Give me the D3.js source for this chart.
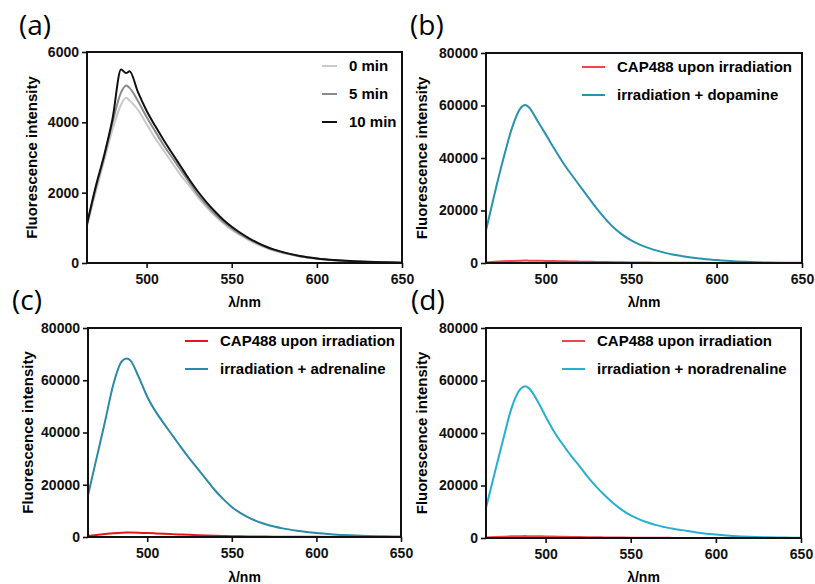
<!DOCTYPE html>
<html lang="en">
  <head>
    <meta charset="utf-8"/>
    <script src="https://d3js.org/d3.v7.min.js"></script>
    <title>Fluorescence spectra</title>
    <style>
      body { margin: 0; background: #fff; }
      text { font-family: "Liberation Sans", Arial, sans-serif; }
      .tick text { font-weight: bold; font-size: 14px; fill: #111; }
      .tick line { stroke: #111; stroke-width: 1.6px; }
    </style>
  </head>
  <body>
    <svg id="svg_main"></svg>

    <script>
      const width = 815;
      const height = 584;

      // wavelength grid (nm) shared by all series
      const wavelengths = [465, 470, 475, 480, 485, 488, 490, 495, 500, 505, 510, 515, 520, 525, 530, 535, 540, 545, 550, 555,
                           560, 565, 570, 575, 580, 590, 600, 610, 620, 630, 640, 650];

      // (a) irradiation time series
      const a_0min  = [1050, 2000, 2900, 3800, 4500, 4700, 4620, 4350, 3950, 3550, 3200, 2850, 2500, 2200, 1880, 1600, 1350, 1130, 940, 790,
                       650, 530, 430, 350, 285, 185, 120, 75, 45, 28, 16, 6];
      const a_5min  = [1100, 2100, 3000, 4000, 4850, 5050, 4980, 4600, 4150, 3750, 3350, 3000, 2650, 2300, 1950, 1660, 1400, 1170, 980, 820,
                       680, 560, 455, 370, 300, 195, 125, 80, 50, 30, 20, 10];
      const a_10min = [1110, 2150, 3050, 4100, 5500, 5400, 5450, 4850, 4330, 3900, 3500, 3120, 2750, 2380, 2040, 1740, 1470, 1230, 1030, 860,
                       710, 580, 470, 380, 310, 200, 130, 85, 55, 35, 20, 10];

      // (b)-(d) CAP488 alone vs with catecholamine
      const b_cap = [200, 450, 650, 800, 900, 920, 900, 850, 780, 720, 650, 580, 520, 460, 400, 350, 300, 260, 220, 190,
                     160, 135, 110, 95, 80, 50, 40, 30, 20, 12, 8, 5];
      const b_dopamine = [12500, 26300, 39300, 51000, 58800, 60200, 59400, 54300, 49000, 43500, 38300, 33700, 29300, 24900, 20600, 16700, 13300, 10700, 8600, 7000,
                          5750, 4700, 3850, 3150, 2600, 1700, 1100, 620, 350, 200, 100, 50];
      const c_cap = [400, 800, 1150, 1450, 1650, 1700, 1680, 1600, 1500, 1380, 1250, 1100, 950, 820, 700, 580, 480, 400, 330, 270,
                     220, 180, 150, 120, 100, 70, 50, 35, 25, 15, 10, 5];
      const c_adrenaline = [16000, 30000, 44000, 58500, 67300, 68300, 67600, 61200, 53700, 48000, 43300, 38800, 34300, 30000, 26000, 22000, 17900, 14500, 11500, 9200,
                            7400, 6000, 4900, 4000, 3300, 2300, 1500, 1000, 650, 400, 250, 150];
      const d_cap = [150, 350, 500, 620, 700, 720, 700, 660, 600, 540, 480, 420, 360, 310, 260, 220, 180, 150, 120, 100,
                     80, 65, 55, 45, 40, 30, 20, 15, 10, 8, 5, 3];
      const d_noradrenaline = [11500, 24500, 37300, 49500, 56600, 57800, 57200, 52500, 46300, 40500, 35700, 31300, 27300, 23100, 19400, 16100, 13100, 10600, 8600, 7100,
                               5900, 4900, 4150, 3500, 3000, 2000, 1300, 800, 450, 250, 150, 80];

      const xTicks = [500, 550, 600, 650];
      const yTicksA = [0, 2000, 4000, 6000];
      const yTicksB = [0, 20000, 40000, 60000, 80000];

      const panels = [
        { label: "(a)", lx: 19, ly: 35, left: 87, top: 52, right: 402, bottom: 263, ymax: 6000, yticks: yTicksA,
          titleX: 32, xTitleY: 307, legX: 322, legLen: 15, legY: 66,
          series: [
            { name: "0 min", values: a_0min, color: "#c9c9c9" },
            { name: "5 min", values: a_5min, color: "#8a8a8a" },
            { name: "10 min", values: a_10min, color: "#111111" }
          ] },
        { label: "(b)", lx: 410, ly: 35, left: 486, top: 53, right: 802, bottom: 263, ymax: 80000, yticks: yTicksB,
          titleX: 422, xTitleY: 307, legX: 582, legLen: 23, legY: 67,
          series: [
            { name: "CAP488 upon irradiation", values: b_cap, color: "#f0454c" },
            { name: "irradiation + dopamine", values: b_dopamine, color: "#2893ad" }
          ] },
        { label: "(c)", lx: 12, ly: 310, left: 88, top: 328, right: 401, bottom: 537, ymax: 80000, yticks: yTicksB,
          titleX: 28, xTitleY: 582, legX: 185, legLen: 23, legY: 341,
          series: [
            { name: "CAP488 upon irradiation", values: c_cap, color: "#e8141a" },
            { name: "irradiation + adrenaline", values: c_adrenaline, color: "#2a8aa8" }
          ] },
        { label: "(d)", lx: 411, ly: 310, left: 486, top: 328, right: 801, bottom: 538, ymax: 80000, yticks: yTicksB,
          titleX: 422, xTitleY: 582, legX: 562, legLen: 23, legY: 341,
          series: [
            { name: "CAP488 upon irradiation", values: d_cap, color: "#f0454c" },
            { name: "irradiation + noradrenaline", values: d_noradrenaline, color: "#25afd0" }
          ] }
      ];

      let svg = d3.select("#svg_main")
          .attr("width", width)
          .attr("height", height);

      panels.forEach(function(p) {
        let xScale = d3.scaleLinear().domain([465, 650]).range([p.left, p.right]);
        let yScale = d3.scaleLinear().domain([0, p.ymax]).range([p.bottom, p.top]);

        let g = svg.append("g");

        // curves first, frame on top
        let line = d3.line()
            .x(function(d, i) { return xScale(wavelengths[i]); })
            .y(function(d) { return yScale(d); })
            .curve(d3.curveMonotoneX);

        p.series.forEach(function(s) {
          g.append("path")
              .datum(s.values)
              .attr("fill", "none")
              .attr("stroke", s.color)
              .attr("stroke-width", 2)
              .attr("stroke-linejoin", "round")
              .attr("d", line);
        });

        // box around the plot
        g.append("rect")
            .attr("x", p.left)
            .attr("y", p.top)
            .attr("width", p.right - p.left)
            .attr("height", p.bottom - p.top)
            .attr("fill", "none")
            .attr("stroke", "#111")
            .attr("stroke-width", 2);

        let xAxis_g = g.append("g")
            .attr("transform", "translate(0," + p.bottom + ")")
            .call(d3.axisBottom(xScale).tickValues(xTicks).tickSize(5).tickPadding(6));
        xAxis_g.select(".domain").remove();

        let yAxis_g = g.append("g")
            .attr("transform", "translate(" + p.left + ",0)")
            .call(d3.axisLeft(yScale).tickValues(p.yticks).tickSize(5).tickPadding(3).tickFormat(d3.format("d")));
        yAxis_g.select(".domain").remove();

        // axis titles
        g.append("text")
            .attr("transform", "translate(" + p.titleX + "," + ((p.top + p.bottom) / 2) + ") rotate(-90)")
            .attr("text-anchor", "middle")
            .attr("dy", "0.35em")
            .style("font-weight", "bold")
            .style("font-size", "15px")
            .text("Fluorescence intensity");

        g.append("text")
            .attr("x", (p.left + p.right) / 2)
            .attr("y", p.xTitleY)
            .attr("text-anchor", "middle")
            .style("font-weight", "bold")
            .style("font-size", "14px")
            .text("λ/nm");

        // panel label
        g.append("text")
            .attr("x", p.lx)
            .attr("y", p.ly)
            .style("font-family", "'Open Sans', sans-serif")
            .style("font-size", "28px")
            .text(p.label);

        // legend
        p.series.forEach(function(s, i) {
          let y = p.legY + i * 28;
          g.append("line")
              .attr("x1", p.legX)
              .attr("x2", p.legX + p.legLen)
              .attr("y1", y)
              .attr("y2", y)
              .attr("stroke", s.color)
              .attr("stroke-width", 2);
          g.append("text")
              .attr("x", p.legX + p.legLen + 12)
              .attr("y", y)
              .attr("dy", "0.35em")
              .style("font-weight", "bold")
              .style("font-size", "15px")
              .text(s.name);
        });
      });
    </script>
  </body>
</html>
